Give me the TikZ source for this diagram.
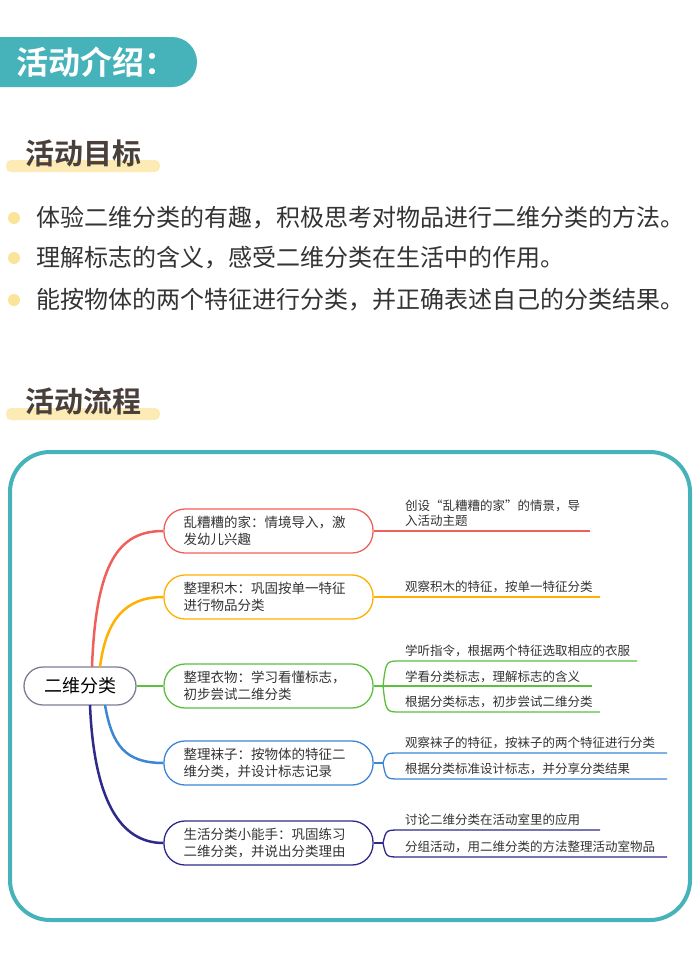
\documentclass[tikz,border=0pt]{standalone}
\usepackage{fontspec}
\setmainfont{Noto Sans CJK SC}
\newfontfamily\cjkb{Noto Sans CJK SC Bold}
\definecolor{teal1}{HTML}{46B2BA}
\definecolor{hl}{HTML}{FDEBB5}
\definecolor{dot}{HTML}{FCE39A}
\definecolor{dk}{HTML}{4A403B}
\definecolor{tx}{HTML}{333333}
\definecolor{cR}{HTML}{F0605A}
\definecolor{cO}{HTML}{FFB000}
\definecolor{cG}{HTML}{5CBF3F}
\definecolor{cB}{HTML}{3D86D6}
\definecolor{cI}{HTML}{2E2A8A}
\definecolor{rootc}{HTML}{7A7F95}
\begin{document}
\begin{tikzpicture}[x=1pt,y=-1pt,
  head/.style={anchor=west,inner sep=0pt,text=dk,font=\cjkb\fontsize{29}{32}\selectfont},
  bul/.style={anchor=west,inner sep=0pt,text=tx,font=\fontsize{24}{26}\selectfont},
  branch/.style={draw,line width=1.3pt,rounded corners=21pt,minimum width=209pt,minimum height=44pt,text width=170pt,align=left,text=tx,font=\fontsize{13.5}{17}\selectfont},
  leaf/.style={anchor=south west,inner sep=1pt,text=tx,font=\fontsize{12.5}{15}\selectfont,align=left},
  edge/.style={line width=2.5pt},
  ln/.style={line width=1.3pt}]
\useasboundingbox (0,0) rectangle (700,959);
\fill[white] (0,0) rectangle (700,959);
% top tab
\begin{scope}
\clip (0,0) rectangle (700,959);
\fill[teal1,rounded corners=25pt] (-40,37) rectangle (197,87);
\end{scope}
\node[anchor=west,inner sep=0pt,text=white,font=\cjkb\fontsize{32}{34}\selectfont] (t0) at (16,62) {活动介绍：};
% heading 1
\fill[hl,rounded corners=5pt] (6,160) rectangle (160,172);
\node[head] (h1) at (25,153) {活动目标};
\foreach \y/\t [count=\i] in {218/{体验二维分类的有趣，积极思考对物品进行二维分类的方法。},258/{理解标志的含义，感受二维分类在生活中的作用。},300/{能按物体的两个特征进行分类，并正确表述自己的分类结果。}}{
  \fill[dot] (14,\y) circle (6);
  \node[bul] (b\i) at (36,\y) {\t};
}
% heading 2
\fill[hl,rounded corners=5pt] (6,408) rectangle (160,420);
\node[head] (h2) at (25,401) {活动流程};
% frame
\draw[teal1,line width=4pt,rounded corners=40pt] (10,452) rectangle (690,920);
% root
\node[draw=rootc,line width=1.3pt,rounded corners=19pt,minimum width=112pt,minimum height=38pt,text=black,font=\fontsize{18}{20}\selectfont] (root) at (80,686) {二维分类};
% branches
\node[branch,draw=cR] (n1) at (268.5,531) {乱糟糟的家：情境导入，激\\发幼儿兴趣};
\node[branch,draw=cO] (n2) at (268.5,597) {整理积木：巩固按单一特征\\进行物品分类};
\node[branch,draw=cG] (n3) at (268.5,686) {整理衣物：学习看懂标志，\\初步尝试二维分类};
\node[branch,draw=cB] (n4) at (268.5,763) {整理袜子：按物体的特征二\\维分类，并设计标志记录};
\node[branch,draw=cI] (n5) at (268.5,843) {生活分类小能手：巩固练习\\二维分类，并说出分类理由};
% edges
\draw[edge,cR] (92,667) .. controls (96,560) and (120,531) .. (n1.west);
\draw[edge,cO] (100,667) .. controls (106,620) and (125,597) .. (n2.west);
\draw[edge,cG] (root.east) -- (n3.west);
\draw[edge,cB] (105,705) .. controls (112,745) and (125,763) .. (n4.west);
\draw[edge,cI] (90,705) .. controls (94,800) and (120,843) .. (n5.west);
% leaves
\coordinate (e1) at (590,531);
\draw[ln,cR] (n1.east) -- (e1);
\node[leaf] (l1) at (404,528) {创设“乱糟糟的家”的情景，导\\入活动主题};
\coordinate (e2) at (600,597);
\draw[ln,cO] (n2.east) -- (e2);
\node[leaf] (l2) at (404,594) {观察积木的特征，按单一特征分类};
% branch 3
\coordinate (s3) at (383,686);
\draw[ln,cG] (n3.east) -- (s3);
\coordinate (e31) at (637,661); \coordinate (e32) at (592,686); \coordinate (e33) at (600,712);
\draw[ln,cG] (s3) .. controls (386,661) .. (400,661) -- (e31);
\draw[ln,cG] (s3) -- (e32);
\draw[ln,cG] (s3) .. controls (386,712) .. (400,712) -- (e33);
\node[leaf] (l31) at (404,658) {学听指令，根据两个特征选取相应的衣服};
\node[leaf] (l32) at (404,684) {学看分类标志，理解标志的含义};
\node[leaf] (l33) at (404,709) {根据分类标志，初步尝试二维分类};
% branch 4
\coordinate (s4) at (383,763);
\draw[ln,cB] (n4.east) -- (s4);
\coordinate (e41) at (667,753); \coordinate (e42) at (667,779);
\draw[ln,cB] (s4) .. controls (386,753) .. (400,753) -- (e41);
\draw[ln,cB] (s4) .. controls (386,779) .. (400,779) -- (e42);
\node[leaf] (l41) at (404,750) {观察袜子的特征，按袜子的两个特征进行分类};
\node[leaf] (l42) at (404,776) {根据分类标准设计标志，并分享分类结果};
% branch 5
\coordinate (s5) at (383,843);
\draw[ln,cI] (n5.east) -- (s5);
\coordinate (e51) at (600,830); \coordinate (e52) at (667,857);
\draw[ln,cI] (s5) .. controls (386,830) .. (400,830) -- (e51);
\draw[ln,cI] (s5) .. controls (386,857) .. (400,857) -- (e52);
\node[leaf] (l51) at (404,827) {讨论二维分类在活动室里的应用};
\node[leaf] (l52) at (404,854) {分组活动，用二维分类的方法整理活动室物品};
\end{tikzpicture}
\end{document}
